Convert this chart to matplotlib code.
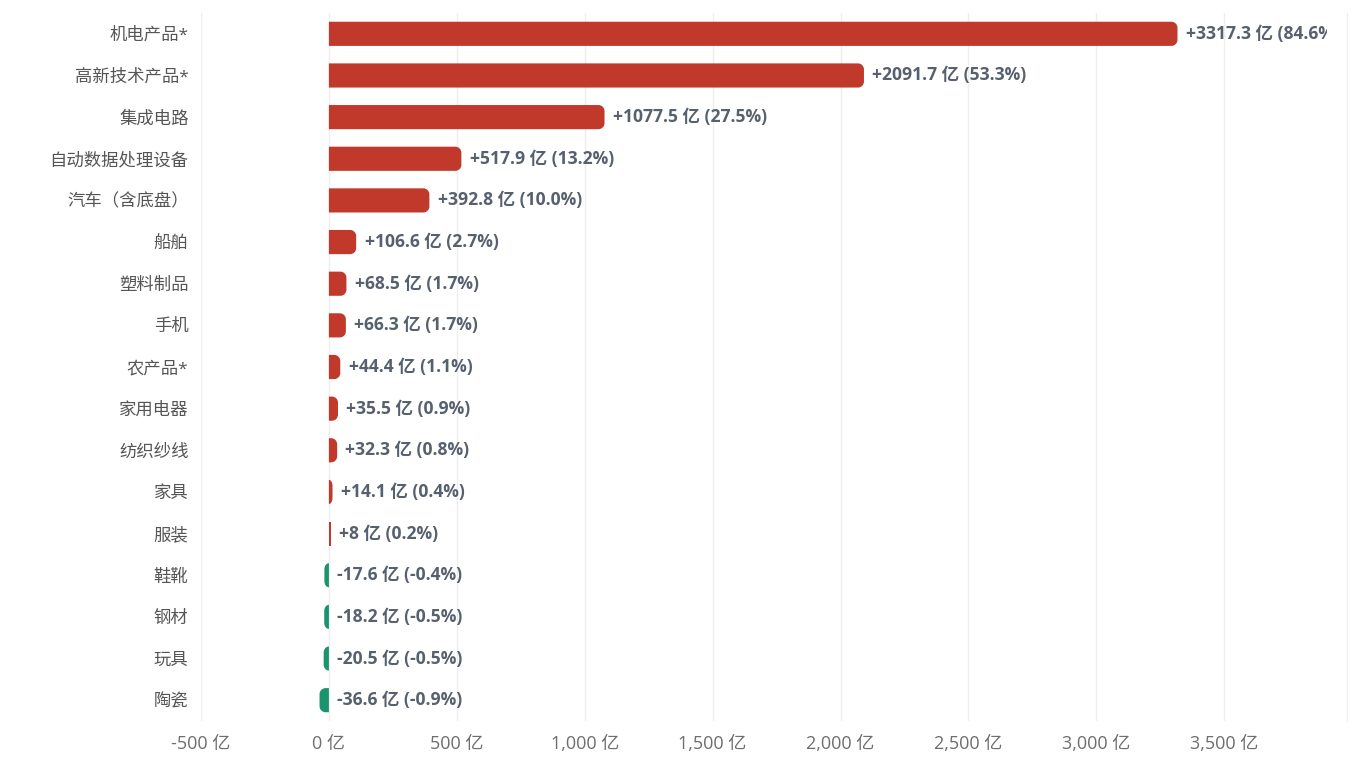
import numpy as np
import matplotlib.pyplot as plt
from matplotlib.patches import PathPatch, Rectangle
from matplotlib.path import Path

plt.rcParams['font.family'] = ['Open Sans', 'Noto Sans CJK SC', 'DejaVu Sans']

# 类别与数值（亿元），百分比为占比
categories = ['机电产品*', '高新技术产品*', '集成电路', '自动数据处理设备', '汽车（含底盘）',
              '船舶', '塑料制品', '手机', '农产品*', '家用电器', '纺织纱线', '家具',
              '服装', '鞋靴', '钢材', '玩具', '陶瓷']
values = [3317.3, 2091.7, 1077.5, 517.9, 392.8, 106.6, 68.5, 66.3, 44.4, 35.5,
          32.3, 14.1, 8, -17.6, -18.2, -20.5, -36.6]
shares = [84.6, 53.3, 27.5, 13.2, 10.0, 2.7, 1.7, 1.7, 1.1, 0.9, 0.8, 0.4, 0.2,
          -0.4, -0.5, -0.5, -0.9]
xticks = [-500, 0, 500, 1000, 1500, 2000, 2500, 3000, 3500]

red = '#c0392b'
green = '#1a936f'
txt = '#56606e'

fig = plt.figure(figsize=(13.58, 7.7), dpi=100)
ax = fig.add_axes([201 / 1358, 49 / 770, (1347 - 201) / 1358, (757 - 49) / 770])
ax.set_xlim(-500, 3980)
ax.set_ylim(len(categories) - 0.5, -0.5)

# 像素换算，用于圆角
px_x = (1347 - 201) / (3980 + 500)
px_y = (757 - 49) / len(categories)
r_px = 6
bar_h = 0.58
K = 0.5523  # 贝塞尔近似圆弧


def bar_path(v, yc, h):
    # 零点端方角，数值端圆角
    w = abs(v)
    s = 1 if v >= 0 else -1
    rx = min(r_px / px_x, w)
    ry = min(r_px / px_y, h / 2)
    y0, y1 = yc - h / 2, yc + h / 2
    e = v
    verts = [(0, y0), (e - s * rx, y0),
             (e - s * rx + s * rx * K, y0), (e, y0 + ry - ry * K), (e, y0 + ry),
             (e, y1 - ry),
             (e, y1 - ry + ry * K), (e - s * rx + s * rx * K, y1), (e - s * rx, y1),
             (0, y1), (0, y0)]
    codes = [Path.MOVETO, Path.LINETO,
             Path.CURVE4, Path.CURVE4, Path.CURVE4,
             Path.LINETO,
             Path.CURVE4, Path.CURVE4, Path.CURVE4,
             Path.LINETO, Path.CLOSEPOLY]
    return Path(verts, codes)


clip = Rectangle((0, 0), (1327 - 201) / (1347 - 201), 1, transform=ax.transAxes)

for i, (v, s) in enumerate(zip(values, shares)):
    color = red if v >= 0 else green
    if abs(v) * px_x < 3:
        ax.add_patch(Rectangle((min(v, 0), i - bar_h / 2), max(abs(v), 1.6 / px_x), bar_h,
                               fc=color, ec='none', zorder=3))
    else:
        ax.add_patch(PathPatch(bar_path(v, i, bar_h), fc=color, ec='none', zorder=3))
    sign = '+' if v > 0 else ''
    label = f'{sign}{v:g} 亿 ({s:.1f}%)'
    t = ax.annotate(label, xy=(max(v, 0), i), xytext=(6, 0), textcoords='offset points',
                    ha='left', va='center', fontsize=12.6, fontweight='bold', color=txt,
                    zorder=4)
    t.set_clip_path(clip)

ax.set_yticks(range(len(categories)))
ax.set_yticklabels(categories, fontsize=12.5, color='#555555')
ax.set_xticks(xticks)
ax.set_xticklabels([f'{x:,} 亿' for x in xticks], fontsize=13, color='#6e6e6e')
ax.tick_params(axis='both', length=0)
ax.tick_params(axis='y', pad=9)
ax.tick_params(axis='x', pad=10)
ax.grid(axis='x', color='#eeeeee', linewidth=1, zorder=0)
for sp in ['left', 'top', 'bottom']:
    ax.spines[sp].set_visible(False)
ax.spines['right'].set_color('#eeeeee')

fig.savefig('out.png', dpi=100)
